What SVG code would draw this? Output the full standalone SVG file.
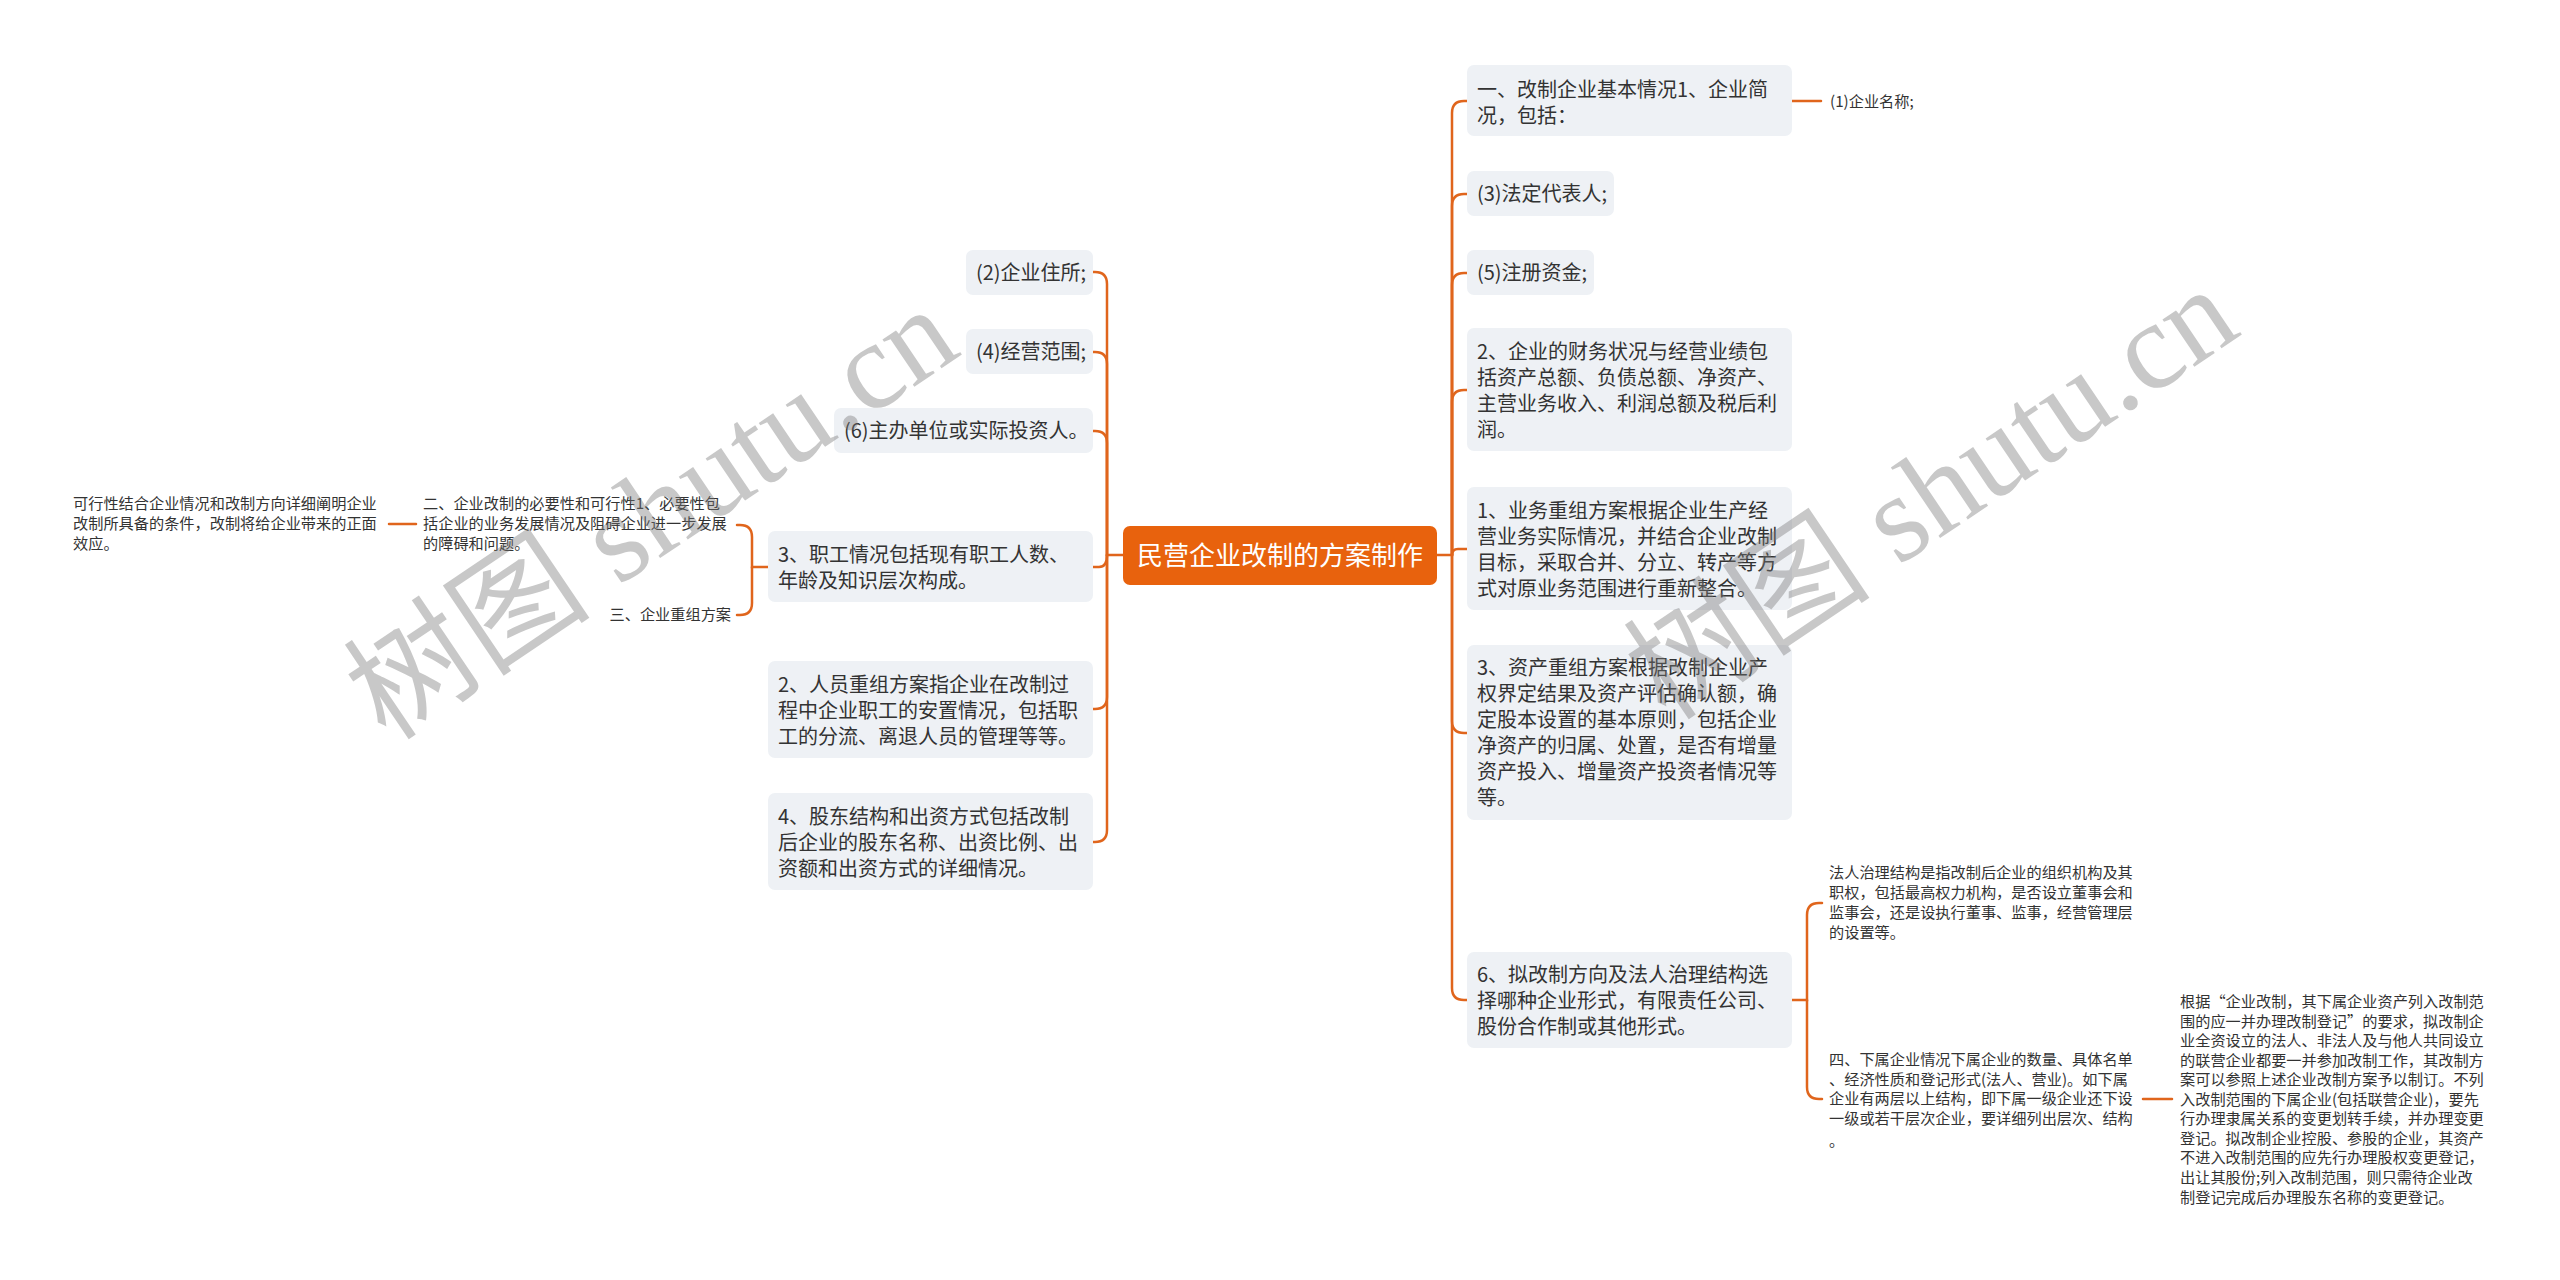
<svg xmlns="http://www.w3.org/2000/svg" width="2560" height="1280" viewBox="0 0 2560 1280">
<style>
.box{fill:#eef1f5;}
.t{font-family:"Noto Sans CJK SC","Noto Sans",sans-serif;font-size:20px;fill:#333333;}
.s{font-family:"Noto Sans CJK SC","Noto Sans",sans-serif;font-size:15.2px;fill:#333333;}
.c{font-family:"Noto Sans CJK SC","Noto Sans",sans-serif;font-size:26px;fill:#ffffff;}
.ln{fill:none;stroke:#e0651c;stroke-width:2.5;stroke-linecap:round;}
.wm{font-family:"Liberation Serif","Noto Sans CJK SC",serif;font-size:124px;fill:#777777;opacity:0.4;}
</style>
<rect width="2560" height="1280" fill="#ffffff"/>
<g id="connectors">
  <path class="ln" d="M1437 555 H1452 V113 Q1452 101 1464 101 H1467"/>
  <path class="ln" d="M1452 555 V206 Q1452 194 1464 194 H1467"/>
  <path class="ln" d="M1452 555 V285 Q1452 273 1464 273 H1467"/>
  <path class="ln" d="M1452 555 V402 Q1452 390 1464 390 H1467"/>
  <path class="ln" d="M1452 555 Q1452 549 1458 549 H1467"/>
  <path class="ln" d="M1452 555 V721 Q1452 733 1464 733 H1467"/>
  <path class="ln" d="M1452 555 V988 Q1452 1000 1464 1000 H1467"/>
  <path class="ln" d="M1792 101 H1821"/>
  <path class="ln" d="M1792 1000 H1807 V915 Q1807 903 1819 903 H1822"/>
  <path class="ln" d="M1807 1000 V1087 Q1807 1099 1819 1099 H1822"/>
  <path class="ln" d="M2143 1099 H2172"/>
  <path class="ln" d="M1123 555 H1107 V284 Q1107 272 1095 272 H1093"/>
  <path class="ln" d="M1107 555 V364 Q1107 352 1095 352 H1093"/>
  <path class="ln" d="M1107 555 V443 Q1107 431 1095 431 H1093"/>
  <path class="ln" d="M1107 555 Q1107 567 1099 567 H1093"/>
  <path class="ln" d="M1107 555 V697 Q1107 709 1095 709 H1093"/>
  <path class="ln" d="M1107 555 V830 Q1107 842 1095 842 H1093"/>
  <path class="ln" d="M768 567 H752 V537 Q752 525 740 525 H737"/>
  <path class="ln" d="M752 567 V603 Q752 615 740 615 H737"/>
  <path class="ln" d="M416 524 H389"/>
</g>
<g id="center">
  <rect x="1123" y="526" width="314" height="59" rx="7" fill="#e8620d"/>
  <text class="c" x="1280" y="565" text-anchor="middle">民营企业改制的方案制作</text>
</g>
<g id="r1">
  <rect class="box" x="1467" y="65" width="325" height="71" rx="7"/>
  <text class="t" x="1477" y="97">一、改制企业基本情况1、企业简</text>
  <text class="t" x="1477" y="123">况，包括：</text>
</g>
<g id="r1a"><text class="s" x="1830" y="107">(1)企业名称;</text></g>
<g id="r2">
  <rect class="box" x="1467" y="171" width="147" height="45" rx="7"/>
  <text class="t" x="1477" y="201">(3)法定代表人;</text>
</g>
<g id="r3">
  <rect class="box" x="1467" y="250" width="127" height="45" rx="7"/>
  <text class="t" x="1477" y="280">(5)注册资金;</text>
</g>
<g id="r4">
  <rect class="box" x="1467" y="328" width="325" height="123" rx="7"/>
  <text class="t" x="1477" y="359">2、企业的财务状况与经营业绩包</text>
  <text class="t" x="1477" y="385">括资产总额、负债总额、净资产、</text>
  <text class="t" x="1477" y="411">主营业务收入、利润总额及税后利</text>
  <text class="t" x="1477" y="437">润。</text>
</g>
<g id="r5">
  <rect class="box" x="1467" y="487" width="325" height="123" rx="7"/>
  <text class="t" x="1477" y="518">1、业务重组方案根据企业生产经</text>
  <text class="t" x="1477" y="544">营业务实际情况，并结合企业改制</text>
  <text class="t" x="1477" y="570">目标，采取合并、分立、转产等方</text>
  <text class="t" x="1477" y="596">式对原业务范围进行重新整合。</text>
</g>
<g id="r6">
  <rect class="box" x="1467" y="645" width="325" height="175" rx="7"/>
  <text class="t" x="1477" y="675">3、资产重组方案根据改制企业产</text>
  <text class="t" x="1477" y="701">权界定结果及资产评估确认额，确</text>
  <text class="t" x="1477" y="727">定股本设置的基本原则，包括企业</text>
  <text class="t" x="1477" y="753">净资产的归属、处置，是否有增量</text>
  <text class="t" x="1477" y="779">资产投入、增量资产投资者情况等</text>
  <text class="t" x="1477" y="805">等。</text>
</g>
<g id="r7">
  <rect class="box" x="1467" y="952" width="325" height="96" rx="7"/>
  <text class="t" x="1477" y="982">6、拟改制方向及法人治理结构选</text>
  <text class="t" x="1477" y="1008">择哪种企业形式，有限责任公司、</text>
  <text class="t" x="1477" y="1034">股份合作制或其他形式。</text>
</g>
<g id="r7a">
  <text class="s" x="1829" y="878">法人治理结构是指改制后企业的组织机构及其</text>
  <text class="s" x="1829" y="898">职权，包括最高权力机构，是否设立董事会和</text>
  <text class="s" x="1829" y="918">监事会，还是设执行董事、监事，经营管理层</text>
  <text class="s" x="1829" y="938">的设置等。</text>
</g>
<g id="r7b">
  <text class="s" x="1829" y="1065">四、下属企业情况下属企业的数量、具体名单</text>
  <text class="s" x="1829" y="1085">、经济性质和登记形式(法人、营业)。如下属</text>
  <text class="s" x="1829" y="1104">企业有两层以上结构，即下属一级企业还下设</text>
  <text class="s" x="1829" y="1124">一级或若干层次企业，要详细列出层次、结构</text>
  <text class="s" x="1829" y="1146">。</text>
</g>
<g id="r7b1">
  <text class="s" x="2180" y="1007">根据“企业改制，其下属企业资产列入改制范</text>
  <text class="s" x="2180" y="1027">围的应一并办理改制登记”的要求，拟改制企</text>
  <text class="s" x="2180" y="1046">业全资设立的法人、非法人及与他人共同设立</text>
  <text class="s" x="2180" y="1066">的联营企业都要一并参加改制工作，其改制方</text>
  <text class="s" x="2180" y="1085">案可以参照上述企业改制方案予以制订。不列</text>
  <text class="s" x="2180" y="1105">入改制范围的下属企业(包括联营企业)，要先</text>
  <text class="s" x="2180" y="1124">行办理隶属关系的变更划转手续，并办理变更</text>
  <text class="s" x="2180" y="1144">登记。拟改制企业控股、参股的企业，其资产</text>
  <text class="s" x="2180" y="1163">不进入改制范围的应先行办理股权变更登记，</text>
  <text class="s" x="2180" y="1183">出让其股份;列入改制范围，则只需待企业改</text>
  <text class="s" x="2180" y="1203">制登记完成后办理股东名称的变更登记。</text>
</g>
<g id="l1">
  <rect class="box" x="966" y="250" width="127" height="45" rx="7"/>
  <text class="t" x="976" y="280">(2)企业住所;</text>
</g>
<g id="l2">
  <rect class="box" x="966" y="329" width="127" height="45" rx="7"/>
  <text class="t" x="976" y="359">(4)经营范围;</text>
</g>
<g id="l3">
  <rect class="box" x="834" y="408" width="259" height="45" rx="7"/>
  <text class="t" x="844" y="438">(6)主办单位或实际投资人。</text>
</g>
<g id="l4">
  <rect class="box" x="768" y="531" width="325" height="71" rx="7"/>
  <text class="t" x="778" y="562">3、职工情况包括现有职工人数、</text>
  <text class="t" x="778" y="588">年龄及知识层次构成。</text>
</g>
<g id="l4a">
  <text class="s" x="423" y="509">二、企业改制的必要性和可行性1、必要性包</text>
  <text class="s" x="423" y="529">括企业的业务发展情况及阻碍企业进一步发展</text>
  <text class="s" x="423" y="549">的障碍和问题。</text>
</g>
<g id="l4a1">
  <text class="s" x="73" y="509">可行性结合企业情况和改制方向详细阐明企业</text>
  <text class="s" x="73" y="529">改制所具备的条件，改制将给企业带来的正面</text>
  <text class="s" x="73" y="549">效应。</text>
</g>
<g id="l4b"><text class="s" x="731" y="620" text-anchor="end">三、企业重组方案</text></g>
<g id="l5">
  <rect class="box" x="768" y="661" width="325" height="97" rx="7"/>
  <text class="t" x="778" y="692">2、人员重组方案指企业在改制过</text>
  <text class="t" x="778" y="718">程中企业职工的安置情况，包括职</text>
  <text class="t" x="778" y="744">工的分流、离退人员的管理等等。</text>
</g>
<g id="l6">
  <rect class="box" x="768" y="793" width="325" height="97" rx="7"/>
  <text class="t" x="778" y="824">4、股东结构和出资方式包括改制</text>
  <text class="t" x="778" y="850">后企业的股东名称、出资比例、出</text>
  <text class="t" x="778" y="876">资额和出资方式的详细情况。</text>
</g>
<g id="watermark">
  <text class="wm" transform="translate(675 548) rotate(-34)" text-anchor="middle">树图 shutu.cn</text>
  <text class="wm" transform="translate(1955 528) rotate(-34)" text-anchor="middle">树图 shutu.cn</text>
</g>
</svg>
